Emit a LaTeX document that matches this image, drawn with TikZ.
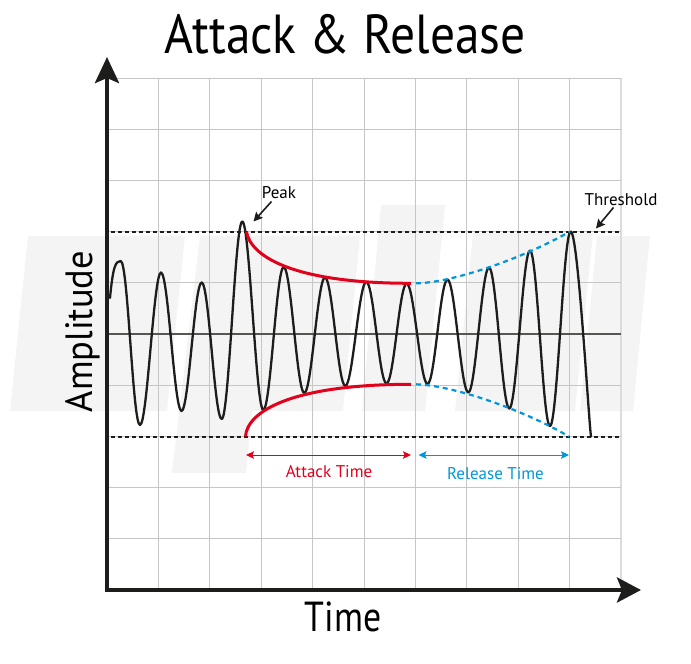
\documentclass[tikz,border=0pt]{standalone}
\usepackage{fontspec}
\setmainfont{PT Sans}
\usetikzlibrary{arrows.meta}
\definecolor{arred}{RGB}{226,0,26}
\definecolor{arblue}{RGB}{0,150,219}
\definecolor{ink}{RGB}{29,29,27}
\definecolor{gridc}{RGB}{198,198,198}
\definecolor{gridl}{RGB}{220,220,220}
\definecolor{wmark}{RGB}{244,244,244}
\tikzset{
  wm/.style={fill=wmark,draw=none},
  gridline/.style={draw=gridc,line width=1pt},
  zeroline/.style={draw=ink!75,line width=1.2pt},
  thresh/.style={draw=ink,line width=2pt,dash pattern=on 4pt off 3pt},
  wave/.style={draw=ink,line width=2.3pt,line join=round,line cap=round},
  redenv/.style={draw=arred,line width=3pt},
  blueenv/.style={draw=arblue,line width=2.2pt,dash pattern=on 5pt off 4pt},
  axisline/.style={draw=ink,line width=4.5pt,line join=miter},
  pointer/.style={draw=ink,line width=1.6pt,-{Stealth[length=9pt,width=9pt,inset=1.5pt]}},
  span/.style={line width=1pt,{Stealth[length=8pt,width=7.5pt,inset=1.5pt]}-{Stealth[length=8pt,width=7.5pt,inset=1.5pt]}},
  lbl/.style={inner sep=0pt,font=\fontsize{17}{20}\selectfont},
}
\begin{document}
\begin{tikzpicture}[x=1pt,y=-1pt]
\useasboundingbox (0,0) rectangle (691,664);
% watermark
\fill[wm] (28,236) -- (185,236) -- (167,411) -- (10,411) -- cycle;
\fill[wm] (200,236) -- (360,236) -- (343,411) -- (252,411) -- (246,473) -- (172,473) -- cycle;
\fill[wm] (381,205) -- (445,205) -- (425,411) -- (362,411) -- cycle;
\fill[wm] (473,233) -- (593,233) -- (575,411) -- (455,411) -- cycle;
\fill[wm] (597,236) -- (650,236) -- (633,411) -- (580,411) -- cycle;
% grid
\foreach \i in {1,...,9} \draw[gridline] ({107+51.4*\i},78) -- ({107+51.4*\i},590);
\draw[draw=gridl,line width=1.2pt] (621,78) -- (621,590);
\foreach \j in {0,...,9} \draw[gridline] (107,{78+51.2*\j}) -- (621,{78+51.2*\j});
\draw[zeroline] (107,334) -- (621,334);
% thresholds
\draw[thresh] (111,231.5) -- (621,231.5);
\draw[thresh] (111,436.5) -- (621,436.5);
% waveform
\draw[wave] (110,298) .. controls +(3,-32) and +(-5,0) .. (120.7,261)
  \foreach \px/\py in {140/425,161/272.5,181.5/411,201.7/282.5,221.7/419,242.3/221.5,263.3/410,283.7/267,304.3/393,325/277.5,345.3/386,366.3/281.7,386.5/383.5,406.7/283.5,427.5/384,447.5/279.5,468.3/392.5,489/267.5,509.3/408.5,530/250.5,550/426,570.7/231.5}
  { .. controls +(7.3,0) and +(-7.3,0) .. (\px,\py) }
  .. controls +(7.3,0) and +(-2.5,-18) .. (591,436.5);
% envelopes
\draw[redenv] (246.5,231.5) .. controls (250,255) and (290,283.3) .. (411,283.3);
\draw[redenv] (245.5,436.5) .. controls (247,412) and (290,384.3) .. (411,384.3);
\draw[blueenv] (416,283.3) .. controls (450,283) and (520,260) .. (570,231.5);
\draw[blueenv] (416,384.3) .. controls (450,385) and (520,408) .. (569,436.5);
% axes
\coordinate (ytip) at (107,57);
\coordinate (origin) at (107,590);
\coordinate (xtip) at (641,590);
\draw[axisline,{Stealth[length=26pt,width=24pt,inset=5pt]}-{Stealth[length=24pt,width=25pt,inset=5pt]}] (ytip) -- (origin) -- (xtip);
% labels
\node[inner sep=0pt,anchor=base,font=\fontsize{55}{60}\selectfont] (title) at (345,53) {\scalebox{0.9}[1]{Attack \& Release}};
\node[inner sep=0pt,anchor=base,font=\fontsize{42}{48}\selectfont] (time) at (343,631.5) {\scalebox{0.85}[1]{Time}};
\node[inner sep=0pt,anchor=base,rotate=90,font=\fontsize{38}{44}\selectfont] (ampl) at (92,331.5) {\scalebox{0.96}[1]{Amplitude}};
\node[lbl,anchor=base] (peak) at (279,198) {Peak};
\node[lbl,anchor=base] (thr) at (621,205) {Threshold};
\node[lbl,anchor=base,text=arred] (att) at (329,477) {Attack Time};
\node[lbl,anchor=base,text=arblue] (rel) at (495.5,479) {Release Time};
% pointers
\coordinate (pkfrom) at (271.5,201.5);
\coordinate (pkto) at (253.5,221.5);
\coordinate (thfrom) at (613.5,207.5);
\coordinate (thto) at (596,228.5);
\draw[pointer] (pkfrom) -- (pkto);
\draw[pointer] (thfrom) -- (thto);
\coordinate (a1) at (246,455);
\coordinate (a2) at (411,455);
\coordinate (r1) at (418.5,455);
\coordinate (r2) at (569,455);
\draw[span,draw=arred,fill=arred] (a1) -- (a2);
\draw[span,draw=arblue,fill=arblue] (r1) -- (r2);
\end{tikzpicture}
\end{document}
